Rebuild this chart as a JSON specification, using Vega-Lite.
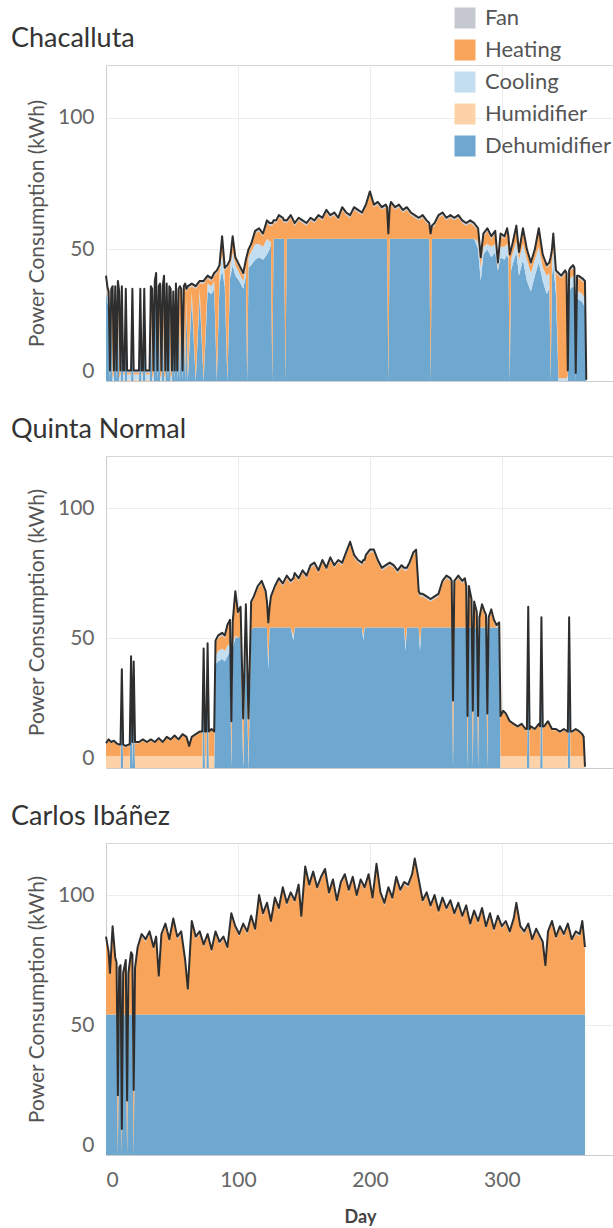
{
"$schema": "https://vega.github.io/schema/vega-lite/v6.json",
"padding": {"left": 10, "top": 7, "right": 0, "bottom": 0},
"background": "white",
"config": {
  "font": "Lato",
  "view": {"stroke": "#d6d6d6"},
  "axis": {"labelFont": "Lato", "labelFontSize": 21, "labelColor": "#666666", "titleFont": "Lato", "titleFontSize": 21, "titleColor": "#555555", "titleFontWeight": "normal", "gridColor": "#ececec", "domainColor": "#cccccc", "ticks": false},
  "legend": {"orient": "none", "legendX": 348, "legendY": -58, "title": null, "symbolType": "square", "symbolSize": 441, "symbolStrokeWidth": 0, "symbolOpacity": 1, "labelFontSize": 22, "labelColor": "#555555", "labelFont": "Lato", "rowPadding": 10, "labelOffset": 9, "padding": 0}
},
"datasets": {
"ord": [{"k":"De","n":"Dehumidifier","o":1},{"k":"Hu","n":"Humidifier","o":2},{"k":"Co","n":"Cooling","o":3},{"k":"He","n":"Heating","o":4},{"k":"Fa","n":"Fan","o":5}],
"cha": [
{"d":0,"De":34,"Hu":0,"Co":3,"He":2,"Fa":1},
{"d":1,"De":30,"Hu":0,"Co":3,"He":2,"Fa":1},
{"d":2,"De":28,"Hu":0,"Co":3,"He":2,"Fa":1},
{"d":3,"De":0,"Hu":0.5,"Co":2,"He":0.5,"Fa":1},
{"d":4,"De":29,"Hu":0,"Co":3,"He":2,"Fa":1},
{"d":5,"De":0,"Hu":0,"Co":1,"He":34,"Fa":1},
{"d":6,"De":0,"Hu":0.5,"Co":2,"He":0.5,"Fa":1},
{"d":7,"De":30,"Hu":0,"Co":3,"He":2,"Fa":1},
{"d":8,"De":0,"Hu":0.5,"Co":2,"He":0.5,"Fa":1},
{"d":9,"De":32,"Hu":0,"Co":3,"He":2,"Fa":1},
{"d":10,"De":0,"Hu":0,"Co":1,"He":32,"Fa":1},
{"d":11,"De":0,"Hu":0.5,"Co":2,"He":0.5,"Fa":1},
{"d":12,"De":30,"Hu":0,"Co":3,"He":2,"Fa":1},
{"d":13,"De":0,"Hu":0.5,"Co":2,"He":0.5,"Fa":1},
{"d":14,"De":0,"Hu":0.5,"Co":2,"He":0.5,"Fa":1},
{"d":15,"De":29,"Hu":0,"Co":3,"He":2,"Fa":1},
{"d":16,"De":0,"Hu":0.5,"Co":2,"He":0.5,"Fa":1},
{"d":17,"De":0,"Hu":0.5,"Co":2,"He":0.5,"Fa":1},
{"d":18,"De":0,"Hu":0.5,"Co":2,"He":0.5,"Fa":1},
{"d":19,"De":0,"Hu":0.5,"Co":2,"He":0.5,"Fa":1},
{"d":20,"De":29,"Hu":0,"Co":3,"He":2,"Fa":1},
{"d":21,"De":0,"Hu":0.5,"Co":2,"He":0.5,"Fa":1},
{"d":22,"De":0,"Hu":0.5,"Co":2,"He":0.5,"Fa":1},
{"d":23,"De":0,"Hu":0.5,"Co":2,"He":0.5,"Fa":1},
{"d":24,"De":0,"Hu":0.5,"Co":2,"He":0.5,"Fa":1},
{"d":25,"De":0,"Hu":0.5,"Co":2,"He":0.5,"Fa":1},
{"d":26,"De":29,"Hu":0,"Co":3,"He":2,"Fa":1},
{"d":27,"De":0,"Hu":0.5,"Co":2,"He":0.5,"Fa":1},
{"d":28,"De":0,"Hu":0.5,"Co":2,"He":0.5,"Fa":1},
{"d":29,"De":29,"Hu":0,"Co":3,"He":2,"Fa":1},
{"d":30,"De":0,"Hu":0.5,"Co":2,"He":0.5,"Fa":1},
{"d":31,"De":0,"Hu":0.5,"Co":2,"He":0.5,"Fa":1},
{"d":32,"De":0,"Hu":0.5,"Co":2,"He":0.5,"Fa":1},
{"d":33,"De":0,"Hu":0.5,"Co":2,"He":0.5,"Fa":1},
{"d":34,"De":30,"Hu":0,"Co":3,"He":2,"Fa":1},
{"d":35,"De":0,"Hu":0,"Co":1,"He":33,"Fa":1},
{"d":36,"De":0,"Hu":0.5,"Co":2,"He":0.5,"Fa":1},
{"d":37,"De":32,"Hu":0,"Co":3,"He":2,"Fa":1},
{"d":38,"De":35,"Hu":0,"Co":3,"He":2,"Fa":1},
{"d":39,"De":0,"Hu":0.5,"Co":2,"He":0.5,"Fa":1},
{"d":40,"De":30,"Hu":0,"Co":3,"He":2,"Fa":1},
{"d":41,"De":0,"Hu":0,"Co":1,"He":35,"Fa":1},
{"d":42,"De":0,"Hu":0.5,"Co":2,"He":0.5,"Fa":1},
{"d":43,"De":30,"Hu":0,"Co":3,"He":2,"Fa":1},
{"d":44,"De":0,"Hu":0,"Co":1,"He":38,"Fa":1},
{"d":45,"De":0,"Hu":0.5,"Co":2,"He":0.5,"Fa":1},
{"d":46,"De":31,"Hu":0,"Co":3,"He":2,"Fa":1},
{"d":47,"De":0,"Hu":0.5,"Co":2,"He":0.5,"Fa":1},
{"d":48,"De":30,"Hu":0,"Co":3,"He":2,"Fa":1},
{"d":49,"De":0,"Hu":0,"Co":1,"He":33,"Fa":1},
{"d":50,"De":0,"Hu":0.5,"Co":2,"He":0.5,"Fa":1},
{"d":51,"De":28,"Hu":0,"Co":3,"He":2,"Fa":1},
{"d":52,"De":0,"Hu":0.5,"Co":2,"He":0.5,"Fa":1},
{"d":53,"De":31,"Hu":0,"Co":3,"He":2,"Fa":1},
{"d":54,"De":0,"Hu":0.5,"Co":2,"He":0.5,"Fa":1},
{"d":55,"De":29,"Hu":0,"Co":3,"He":2,"Fa":1},
{"d":56,"De":0,"Hu":0,"Co":1,"He":34,"Fa":1},
{"d":57,"De":29,"Hu":0,"Co":3,"He":2,"Fa":1},
{"d":58,"De":0,"Hu":0.5,"Co":2,"He":0.5,"Fa":1},
{"d":59,"De":30,"Hu":0,"Co":3,"He":2,"Fa":1},
{"d":60,"De":0,"Hu":0,"Co":1,"He":35,"Fa":1},
{"d":61,"De":29,"Hu":0,"Co":3,"He":2,"Fa":1},
{"d":62,"De":0,"Hu":0,"Co":1,"He":34,"Fa":1},
{"d":65,"De":31,"Hu":0,"Co":3,"He":2,"Fa":1},
{"d":68,"De":0,"Hu":0,"Co":1,"He":34,"Fa":1},
{"d":71,"De":32,"Hu":0,"Co":3,"He":2,"Fa":1},
{"d":74,"De":0,"Hu":0,"Co":1,"He":36,"Fa":1},
{"d":77,"De":34,"Hu":0,"Co":3,"He":2,"Fa":1},
{"d":80,"De":33,"Hu":0,"Co":3,"He":2,"Fa":1},
{"d":82,"De":35,"Hu":0,"Co":3,"He":2,"Fa":1},
{"d":84,"De":0,"Hu":0,"Co":1,"He":40,"Fa":1},
{"d":86,"De":37,"Hu":0,"Co":4,"He":2,"Fa":1},
{"d":88,"De":42,"Hu":0,"Co":6,"He":6,"Fa":1},
{"d":90,"De":36,"Hu":0,"Co":4,"He":2,"Fa":1},
{"d":92,"De":0,"Hu":0,"Co":1,"He":42,"Fa":1},
{"d":94,"De":39,"Hu":0,"Co":4,"He":2,"Fa":1},
{"d":96,"De":44,"Hu":0,"Co":5,"He":5,"Fa":1},
{"d":98,"De":40,"Hu":0,"Co":4,"He":2,"Fa":1},
{"d":101,"De":38,"Hu":0,"Co":3,"He":2,"Fa":1},
{"d":104,"De":35,"Hu":0,"Co":3,"He":2,"Fa":1},
{"d":106,"De":40,"Hu":0,"Co":3,"He":2,"Fa":1},
{"d":107,"De":0,"Hu":0,"Co":1,"He":46,"Fa":1},
{"d":108,"De":43,"Hu":0,"Co":4,"He":2,"Fa":1},
{"d":110,"De":44,"Hu":0,"Co":5,"He":2,"Fa":1},
{"d":113,"De":46,"Hu":0,"Co":6,"He":4,"Fa":1},
{"d":116,"De":47,"Hu":0,"Co":5,"He":5,"Fa":1},
{"d":119,"De":46,"Hu":0,"Co":5,"He":4,"Fa":1},
{"d":122,"De":48,"Hu":0,"Co":6,"He":6,"Fa":1},
{"d":124,"De":50,"Hu":0,"Co":3,"He":6,"Fa":1},
{"d":125,"De":52,"Hu":0,"Co":1,"He":6,"Fa":1},
{"d":126,"De":0,"Hu":0,"Co":0,"He":59,"Fa":1},
{"d":127,"De":54,"Hu":0,"Co":0,"He":6,"Fa":1},
{"d":129,"De":54,"Hu":0,"Co":0,"He":6,"Fa":1},
{"d":131,"De":54,"Hu":0,"Co":0,"He":8,"Fa":1},
{"d":134,"De":54,"Hu":0,"Co":0,"He":7,"Fa":1},
{"d":135,"De":54,"Hu":0,"Co":0,"He":6,"Fa":1},
{"d":136,"De":0,"Hu":0,"Co":0,"He":60,"Fa":1},
{"d":137,"De":54,"Hu":0,"Co":0,"He":6,"Fa":1},
{"d":140,"De":54,"Hu":0,"Co":0,"He":8,"Fa":1},
{"d":143,"De":54,"Hu":0,"Co":0,"He":5,"Fa":1},
{"d":146,"De":54,"Hu":0,"Co":0,"He":7,"Fa":1},
{"d":149,"De":54,"Hu":0,"Co":0,"He":6,"Fa":1},
{"d":152,"De":54,"Hu":0,"Co":0,"He":5,"Fa":1},
{"d":155,"De":54,"Hu":0,"Co":0,"He":7,"Fa":1},
{"d":158,"De":54,"Hu":0,"Co":0,"He":6,"Fa":1},
{"d":161,"De":54,"Hu":0,"Co":0,"He":8,"Fa":1},
{"d":164,"De":54,"Hu":0,"Co":0,"He":7,"Fa":1},
{"d":167,"De":54,"Hu":0,"Co":0,"He":10,"Fa":1},
{"d":170,"De":54,"Hu":0,"Co":0,"He":8,"Fa":1},
{"d":173,"De":54,"Hu":0,"Co":0,"He":9,"Fa":1},
{"d":176,"De":54,"Hu":0,"Co":0,"He":7,"Fa":1},
{"d":179,"De":54,"Hu":0,"Co":0,"He":11,"Fa":1},
{"d":182,"De":54,"Hu":0,"Co":0,"He":9,"Fa":1},
{"d":185,"De":54,"Hu":0,"Co":0,"He":8,"Fa":1},
{"d":188,"De":54,"Hu":0,"Co":0,"He":11,"Fa":1},
{"d":191,"De":54,"Hu":0,"Co":0,"He":10,"Fa":1},
{"d":194,"De":54,"Hu":0,"Co":0,"He":9,"Fa":1},
{"d":197,"De":54,"Hu":0,"Co":0,"He":12,"Fa":1},
{"d":200,"De":54,"Hu":0,"Co":0,"He":17,"Fa":1},
{"d":203,"De":54,"Hu":0,"Co":0,"He":12,"Fa":1},
{"d":206,"De":54,"Hu":0,"Co":0,"He":13,"Fa":1},
{"d":209,"De":54,"Hu":0,"Co":0,"He":11,"Fa":1},
{"d":212,"De":54,"Hu":0,"Co":0,"He":12,"Fa":1},
{"d":213,"De":54,"Hu":0,"Co":0,"He":11,"Fa":1},
{"d":214,"De":0,"Hu":0,"Co":0,"He":55,"Fa":1},
{"d":215,"De":54,"Hu":0,"Co":0,"He":11,"Fa":1},
{"d":216,"De":54,"Hu":0,"Co":0,"He":13,"Fa":1},
{"d":219,"De":54,"Hu":0,"Co":0,"He":11,"Fa":1},
{"d":222,"De":54,"Hu":0,"Co":0,"He":12,"Fa":1},
{"d":225,"De":54,"Hu":0,"Co":0,"He":10,"Fa":1},
{"d":228,"De":54,"Hu":0,"Co":0,"He":11,"Fa":1},
{"d":231,"De":54,"Hu":0,"Co":0,"He":9,"Fa":1},
{"d":234,"De":54,"Hu":0,"Co":0,"He":8,"Fa":1},
{"d":237,"De":54,"Hu":0,"Co":0,"He":7,"Fa":1},
{"d":240,"De":54,"Hu":0,"Co":0,"He":8,"Fa":1},
{"d":243,"De":54,"Hu":0,"Co":0,"He":6,"Fa":1},
{"d":245,"De":54,"Hu":0,"Co":0,"He":5,"Fa":1},
{"d":246,"De":0,"Hu":0,"Co":0,"He":55,"Fa":1},
{"d":247,"De":54,"Hu":0,"Co":0,"He":4,"Fa":1},
{"d":249,"De":54,"Hu":0,"Co":0,"He":5,"Fa":1},
{"d":252,"De":54,"Hu":0,"Co":0,"He":8,"Fa":1},
{"d":255,"De":54,"Hu":0,"Co":0,"He":9,"Fa":1},
{"d":258,"De":54,"Hu":0,"Co":0,"He":7,"Fa":1},
{"d":261,"De":54,"Hu":0,"Co":0,"He":8,"Fa":1},
{"d":264,"De":54,"Hu":0,"Co":0,"He":7,"Fa":1},
{"d":267,"De":54,"Hu":0,"Co":0,"He":8,"Fa":1},
{"d":270,"De":54,"Hu":0,"Co":0,"He":6,"Fa":1},
{"d":273,"De":54,"Hu":0,"Co":0,"He":5,"Fa":1},
{"d":276,"De":54,"Hu":0,"Co":0,"He":6,"Fa":1},
{"d":279,"De":54,"Hu":0,"Co":0,"He":5,"Fa":1},
{"d":282,"De":50,"Hu":0,"Co":3,"He":4,"Fa":1},
{"d":284,"De":38,"Hu":0,"Co":5,"He":3,"Fa":1},
{"d":286,"De":48,"Hu":0,"Co":3,"He":4,"Fa":1},
{"d":289,"De":50,"Hu":0,"Co":2,"He":5,"Fa":1},
{"d":292,"De":47,"Hu":0,"Co":4,"He":3,"Fa":1},
{"d":295,"De":49,"Hu":0,"Co":3,"He":4,"Fa":1},
{"d":297,"De":42,"Hu":0,"Co":1,"He":1,"Fa":1},
{"d":299,"De":47,"Hu":0,"Co":4,"He":4,"Fa":1},
{"d":302,"De":46,"Hu":0,"Co":5,"He":3,"Fa":1},
{"d":304,"De":48,"Hu":0,"Co":4,"He":5,"Fa":1},
{"d":305,"De":46,"Hu":0,"Co":4,"He":4,"Fa":1},
{"d":306,"De":0,"Hu":0,"Co":1,"He":46,"Fa":1},
{"d":307,"De":42,"Hu":0,"Co":4,"He":3,"Fa":1},
{"d":308,"De":44,"Hu":0,"Co":4,"He":3,"Fa":1},
{"d":311,"De":49,"Hu":0,"Co":4,"He":5,"Fa":1},
{"d":313,"De":40,"Hu":0,"Co":6,"He":2,"Fa":1},
{"d":316,"De":46,"Hu":0,"Co":6,"He":5,"Fa":1},
{"d":319,"De":38,"Hu":0,"Co":8,"He":3,"Fa":1},
{"d":322,"De":34,"Hu":0,"Co":7,"He":3,"Fa":1},
{"d":325,"De":40,"Hu":0,"Co":6,"He":3,"Fa":1},
{"d":328,"De":45,"Hu":0,"Co":6,"He":6,"Fa":1},
{"d":331,"De":38,"Hu":0,"Co":5,"He":4,"Fa":1},
{"d":334,"De":33,"Hu":0,"Co":7,"He":3,"Fa":1},
{"d":336,"De":35,"Hu":0,"Co":6,"He":3,"Fa":1},
{"d":337,"De":0,"Hu":0,"Co":1,"He":45,"Fa":1},
{"d":338,"De":40,"Hu":0,"Co":5,"He":4,"Fa":1},
{"d":339,"De":44,"Hu":0,"Co":6,"He":5,"Fa":1},
{"d":341,"De":33,"Hu":0,"Co":6,"He":2,"Fa":1},
{"d":343,"De":0,"Hu":0,"Co":1,"He":39,"Fa":1},
{"d":345,"De":0,"Hu":0,"Co":1,"He":38,"Fa":1},
{"d":348,"De":0,"Hu":0,"Co":1,"He":40,"Fa":1},
{"d":349,"De":0,"Hu":0,"Co":1,"He":39,"Fa":1},
{"d":350,"De":0,"Hu":0,"Co":2,"He":1,"Fa":1},
{"d":351,"De":34,"Hu":0,"Co":4,"He":3,"Fa":1},
{"d":352,"De":35,"Hu":0,"Co":4,"He":3,"Fa":1},
{"d":354,"De":36,"Hu":0,"Co":4,"He":3,"Fa":1},
{"d":355,"De":35,"Hu":0,"Co":4,"He":3,"Fa":1},
{"d":356,"De":0,"Hu":0,"Co":1,"He":1,"Fa":1},
{"d":357,"De":31,"Hu":0,"Co":3,"He":5,"Fa":1},
{"d":358,"De":31,"Hu":0,"Co":3,"He":5,"Fa":1},
{"d":361,"De":30,"Hu":0,"Co":3,"He":5,"Fa":1},
{"d":363,"De":28,"Hu":0,"Co":3,"He":6,"Fa":1},
{"d":364,"De":0,"Hu":0,"Co":0,"He":0,"Fa":0.5}
],
"qn": [
{"d":0,"De":0,"Hu":4.5,"Co":0,"He":4.5,"Fa":0.5},
{"d":2,"De":0,"Hu":4.5,"Co":0,"He":6,"Fa":0.5},
{"d":4,"De":0,"Hu":4.5,"Co":0,"He":5,"Fa":0.5},
{"d":6,"De":0,"Hu":4.5,"Co":0,"He":5.5,"Fa":0.5},
{"d":8,"De":0,"Hu":4.5,"Co":0,"He":4.5,"Fa":0.5},
{"d":10,"De":0,"Hu":4.5,"Co":0,"He":4,"Fa":0.5},
{"d":11,"De":0,"Hu":4.5,"Co":0,"He":4,"Fa":0.5},
{"d":12,"De":34,"Hu":0,"Co":0,"He":3,"Fa":1},
{"d":13,"De":0,"Hu":4.5,"Co":0,"He":4,"Fa":0.5},
{"d":15,"De":0,"Hu":4.5,"Co":0,"He":3.5,"Fa":0.5},
{"d":17,"De":0,"Hu":4.5,"Co":0,"He":4,"Fa":0.5},
{"d":18,"De":0,"Hu":4.5,"Co":0,"He":4,"Fa":0.5},
{"d":19,"De":39,"Hu":0,"Co":0,"He":3,"Fa":1},
{"d":20,"De":0,"Hu":4.5,"Co":0,"He":5,"Fa":0.5},
{"d":21,"De":37,"Hu":0,"Co":0,"He":3,"Fa":1},
{"d":22,"De":0,"Hu":4.5,"Co":0,"He":5,"Fa":0.5},
{"d":25,"De":0,"Hu":4.5,"Co":0,"He":5,"Fa":0.5},
{"d":28,"De":0,"Hu":4.5,"Co":0,"He":6,"Fa":0.5},
{"d":31,"De":0,"Hu":4.5,"Co":0,"He":5,"Fa":0.5},
{"d":34,"De":0,"Hu":4.5,"Co":0,"He":6,"Fa":0.5},
{"d":37,"De":0,"Hu":4.5,"Co":0,"He":5,"Fa":0.5},
{"d":40,"De":0,"Hu":4.5,"Co":0,"He":6.5,"Fa":0.5},
{"d":43,"De":0,"Hu":4.5,"Co":0,"He":5,"Fa":0.5},
{"d":46,"De":0,"Hu":4.5,"Co":0,"He":7,"Fa":0.5},
{"d":49,"De":0,"Hu":4.5,"Co":0,"He":6,"Fa":0.5},
{"d":52,"De":0,"Hu":4.5,"Co":0,"He":7.5,"Fa":0.5},
{"d":55,"De":0,"Hu":4.5,"Co":0,"He":6,"Fa":0.5},
{"d":58,"De":0,"Hu":4.5,"Co":0,"He":8,"Fa":0.5},
{"d":61,"De":0,"Hu":4.5,"Co":0,"He":7,"Fa":0.5},
{"d":63,"De":0,"Hu":4.5,"Co":0,"He":3.5,"Fa":0.5},
{"d":65,"De":0,"Hu":4.5,"Co":0,"He":7,"Fa":0.5},
{"d":68,"De":0,"Hu":4.5,"Co":0,"He":8,"Fa":0.5},
{"d":71,"De":0,"Hu":4.5,"Co":0,"He":9,"Fa":0.5},
{"d":73,"De":0,"Hu":4.5,"Co":0,"He":9,"Fa":0.5},
{"d":74,"De":42,"Hu":0,"Co":0,"He":3,"Fa":1},
{"d":75,"De":0,"Hu":4.5,"Co":0,"He":9,"Fa":0.5},
{"d":76,"De":0,"Hu":4.5,"Co":0,"He":9,"Fa":0.5},
{"d":77,"De":44,"Hu":0,"Co":0,"He":3,"Fa":1},
{"d":78,"De":0,"Hu":4.5,"Co":0,"He":9,"Fa":0.5},
{"d":80,"De":0,"Hu":4.5,"Co":0,"He":10,"Fa":0.5},
{"d":82,"De":0,"Hu":4.5,"Co":0,"He":9,"Fa":0.5},
{"d":83,"De":40,"Hu":0,"Co":3,"He":5,"Fa":1},
{"d":85,"De":41,"Hu":0,"Co":4,"He":5,"Fa":1},
{"d":88,"De":42,"Hu":0,"Co":4,"He":5,"Fa":1},
{"d":90,"De":41,"Hu":0,"Co":4,"He":5,"Fa":1},
{"d":92,"De":43,"Hu":0,"Co":4,"He":7,"Fa":1},
{"d":94,"De":45,"Hu":0,"Co":3,"He":8,"Fa":1},
{"d":95,"De":0,"Hu":4,"Co":0,"He":13,"Fa":1},
{"d":96,"De":46,"Hu":0,"Co":2,"He":7,"Fa":1},
{"d":98,"De":50,"Hu":0,"Co":1,"He":16,"Fa":1},
{"d":100,"De":50,"Hu":0,"Co":0,"He":9,"Fa":1},
{"d":102,"De":51,"Hu":0,"Co":0,"He":10,"Fa":1},
{"d":104,"De":0,"Hu":4,"Co":0,"He":14,"Fa":1},
{"d":106,"De":52,"Hu":0,"Co":0,"He":10,"Fa":1},
{"d":108,"De":0,"Hu":4,"Co":0,"He":14,"Fa":1},
{"d":110,"De":53,"Hu":0,"Co":0,"He":10,"Fa":1},
{"d":112,"De":54,"Hu":0,"Co":0,"He":11,"Fa":1},
{"d":115,"De":54,"Hu":0,"Co":0,"He":15,"Fa":1},
{"d":118,"De":54,"Hu":0,"Co":0,"He":17,"Fa":1},
{"d":121,"De":54,"Hu":0,"Co":0,"He":13,"Fa":1},
{"d":122,"De":54,"Hu":0,"Co":0,"He":9,"Fa":1},
{"d":123,"De":38,"Hu":0,"Co":3,"He":14,"Fa":1},
{"d":124,"De":54,"Hu":0,"Co":0,"He":7,"Fa":1},
{"d":125,"De":54,"Hu":0,"Co":0,"He":11,"Fa":1},
{"d":128,"De":54,"Hu":0,"Co":0,"He":15,"Fa":1},
{"d":131,"De":54,"Hu":0,"Co":0,"He":18,"Fa":1},
{"d":134,"De":54,"Hu":0,"Co":0,"He":16,"Fa":1},
{"d":137,"De":54,"Hu":0,"Co":0,"He":19,"Fa":1},
{"d":140,"De":54,"Hu":0,"Co":0,"He":17,"Fa":1},
{"d":142,"De":49,"Hu":0,"Co":2,"He":21,"Fa":1},
{"d":143,"De":54,"Hu":0,"Co":0,"He":20,"Fa":1},
{"d":146,"De":54,"Hu":0,"Co":0,"He":18,"Fa":1},
{"d":149,"De":54,"Hu":0,"Co":0,"He":21,"Fa":1},
{"d":152,"De":54,"Hu":0,"Co":0,"He":19,"Fa":1},
{"d":155,"De":54,"Hu":0,"Co":0,"He":23,"Fa":1},
{"d":158,"De":54,"Hu":0,"Co":0,"He":24,"Fa":1},
{"d":161,"De":54,"Hu":0,"Co":0,"He":21,"Fa":1},
{"d":164,"De":54,"Hu":0,"Co":0,"He":25,"Fa":1},
{"d":167,"De":54,"Hu":0,"Co":0,"He":22,"Fa":1},
{"d":170,"De":54,"Hu":0,"Co":0,"He":26,"Fa":1},
{"d":173,"De":54,"Hu":0,"Co":0,"He":23,"Fa":1},
{"d":176,"De":54,"Hu":0,"Co":0,"He":25,"Fa":1},
{"d":179,"De":54,"Hu":0,"Co":0,"He":24,"Fa":1},
{"d":182,"De":54,"Hu":0,"Co":0,"He":28,"Fa":1},
{"d":185,"De":54,"Hu":0,"Co":0,"He":32,"Fa":1},
{"d":188,"De":54,"Hu":0,"Co":0,"He":27,"Fa":1},
{"d":191,"De":54,"Hu":0,"Co":0,"He":25,"Fa":1},
{"d":194,"De":54,"Hu":0,"Co":0,"He":24,"Fa":1},
{"d":195,"De":49,"Hu":0,"Co":2,"He":28,"Fa":1},
{"d":196,"De":54,"Hu":0,"Co":0,"He":25,"Fa":1},
{"d":197,"De":54,"Hu":0,"Co":0,"He":27,"Fa":1},
{"d":200,"De":54,"Hu":0,"Co":0,"He":29,"Fa":1},
{"d":203,"De":54,"Hu":0,"Co":0,"He":29,"Fa":1},
{"d":206,"De":54,"Hu":0,"Co":0,"He":25,"Fa":1},
{"d":209,"De":54,"Hu":0,"Co":0,"He":22,"Fa":1},
{"d":212,"De":54,"Hu":0,"Co":0,"He":23,"Fa":1},
{"d":215,"De":54,"Hu":0,"Co":0,"He":24,"Fa":1},
{"d":218,"De":54,"Hu":0,"Co":0,"He":23,"Fa":1},
{"d":221,"De":54,"Hu":0,"Co":0,"He":21,"Fa":1},
{"d":224,"De":54,"Hu":0,"Co":0,"He":23,"Fa":1},
{"d":226,"De":54,"Hu":0,"Co":0,"He":22,"Fa":1},
{"d":227,"De":45,"Hu":0,"Co":3,"He":28,"Fa":1},
{"d":228,"De":54,"Hu":0,"Co":0,"He":22,"Fa":1},
{"d":230,"De":54,"Hu":0,"Co":0,"He":24,"Fa":1},
{"d":233,"De":54,"Hu":0,"Co":0,"He":28,"Fa":1},
{"d":235,"De":54,"Hu":0,"Co":0,"He":29,"Fa":1},
{"d":237,"De":54,"Hu":0,"Co":0,"He":13,"Fa":1},
{"d":238,"De":45,"Hu":0,"Co":3,"He":18,"Fa":1},
{"d":239,"De":54,"Hu":0,"Co":0,"He":12,"Fa":1},
{"d":240,"De":54,"Hu":0,"Co":0,"He":12,"Fa":1},
{"d":243,"De":54,"Hu":0,"Co":0,"He":11,"Fa":1},
{"d":246,"De":54,"Hu":0,"Co":0,"He":10,"Fa":1},
{"d":249,"De":54,"Hu":0,"Co":0,"He":11,"Fa":1},
{"d":252,"De":54,"Hu":0,"Co":0,"He":12,"Fa":1},
{"d":255,"De":54,"Hu":0,"Co":0,"He":17,"Fa":1},
{"d":258,"De":54,"Hu":0,"Co":0,"He":19,"Fa":1},
{"d":261,"De":54,"Hu":0,"Co":0,"He":18,"Fa":1},
{"d":262,"De":54,"Hu":0,"Co":0,"He":17,"Fa":1},
{"d":263,"De":0,"Hu":4,"Co":0,"He":21,"Fa":1},
{"d":264,"De":54,"Hu":0,"Co":0,"He":17,"Fa":1},
{"d":267,"De":54,"Hu":0,"Co":0,"He":19,"Fa":1},
{"d":270,"De":54,"Hu":0,"Co":0,"He":17,"Fa":1},
{"d":272,"De":54,"Hu":0,"Co":0,"He":18,"Fa":1},
{"d":273,"De":54,"Hu":0,"Co":0,"He":15,"Fa":1},
{"d":274,"De":0,"Hu":4,"Co":0,"He":15,"Fa":1},
{"d":275,"De":54,"Hu":0,"Co":0,"He":15,"Fa":1},
{"d":277,"De":54,"Hu":0,"Co":0,"He":10,"Fa":1},
{"d":278,"De":0,"Hu":4,"Co":0,"He":17,"Fa":1},
{"d":279,"De":54,"Hu":0,"Co":0,"He":9,"Fa":1},
{"d":281,"De":54,"Hu":0,"Co":0,"He":5,"Fa":1},
{"d":282,"De":0,"Hu":4,"Co":0,"He":15,"Fa":1},
{"d":283,"De":54,"Hu":0,"Co":0,"He":3,"Fa":1},
{"d":285,"De":54,"Hu":0,"Co":0,"He":8,"Fa":1},
{"d":287,"De":54,"Hu":0,"Co":0,"He":5,"Fa":1},
{"d":288,"De":54,"Hu":0,"Co":0,"He":4,"Fa":1},
{"d":289,"De":0,"Hu":4,"Co":0,"He":16,"Fa":1},
{"d":290,"De":54,"Hu":0,"Co":0,"He":3,"Fa":1},
{"d":292,"De":54,"Hu":0,"Co":0,"He":6,"Fa":1},
{"d":294,"De":54,"Hu":0,"Co":0,"He":2,"Fa":1},
{"d":296,"De":54,"Hu":0,"Co":0,"He":0,"Fa":1},
{"d":298,"De":54,"Hu":0,"Co":0,"He":1,"Fa":1},
{"d":299,"De":0,"Hu":4.5,"Co":0,"He":15,"Fa":0.5},
{"d":301,"De":0,"Hu":4.5,"Co":0,"He":17,"Fa":0.5},
{"d":303,"De":0,"Hu":4.5,"Co":0,"He":16,"Fa":0.5},
{"d":306,"De":0,"Hu":4.5,"Co":0,"He":13,"Fa":0.5},
{"d":309,"De":0,"Hu":4.5,"Co":0,"He":12,"Fa":0.5},
{"d":312,"De":0,"Hu":4.5,"Co":0,"He":11,"Fa":0.5},
{"d":315,"De":0,"Hu":4.5,"Co":0,"He":12,"Fa":0.5},
{"d":318,"De":0,"Hu":4.5,"Co":0,"He":10,"Fa":0.5},
{"d":319,"De":0,"Hu":4.5,"Co":0,"He":10,"Fa":0.5},
{"d":320,"De":56,"Hu":0,"Co":0,"He":5,"Fa":1},
{"d":321,"De":0,"Hu":4.5,"Co":0,"He":10,"Fa":0.5},
{"d":322,"De":0,"Hu":4.5,"Co":0,"He":11,"Fa":0.5},
{"d":325,"De":0,"Hu":4.5,"Co":0,"He":10,"Fa":0.5},
{"d":328,"De":0,"Hu":4.5,"Co":0,"He":12,"Fa":0.5},
{"d":329,"De":0,"Hu":4.5,"Co":0,"He":11,"Fa":0.5},
{"d":330,"De":52,"Hu":0,"Co":0,"He":5,"Fa":1},
{"d":331,"De":0,"Hu":4.5,"Co":0,"He":11,"Fa":0.5},
{"d":332,"De":0,"Hu":4.5,"Co":0,"He":11,"Fa":0.5},
{"d":335,"De":0,"Hu":4.5,"Co":0,"He":13,"Fa":0.5},
{"d":338,"De":0,"Hu":4.5,"Co":0,"He":10,"Fa":0.5},
{"d":341,"De":0,"Hu":4.5,"Co":0,"He":10,"Fa":0.5},
{"d":344,"De":0,"Hu":4.5,"Co":0,"He":9,"Fa":0.5},
{"d":347,"De":0,"Hu":4.5,"Co":0,"He":10,"Fa":0.5},
{"d":350,"De":0,"Hu":4.5,"Co":0,"He":9,"Fa":0.5},
{"d":351,"De":52,"Hu":0,"Co":0,"He":5,"Fa":1},
{"d":352,"De":0,"Hu":4.5,"Co":0,"He":9,"Fa":0.5},
{"d":353,"De":0,"Hu":4.5,"Co":0,"He":9,"Fa":0.5},
{"d":356,"De":0,"Hu":4.5,"Co":0,"He":10,"Fa":0.5},
{"d":359,"De":0,"Hu":4.5,"Co":0,"He":9,"Fa":0.5},
{"d":361,"De":0,"Hu":4.5,"Co":0,"He":8,"Fa":0.5},
{"d":362,"De":0,"Hu":4.5,"Co":0,"He":7,"Fa":0.5},
{"d":363,"De":0,"Hu":0,"Co":0,"He":0,"Fa":0.5}
],
"ci": [
{"d":0,"De":54,"Hu":0,"Co":0,"He":29,"Fa":1},
{"d":2,"De":54,"Hu":0,"Co":0,"He":23,"Fa":1},
{"d":3,"De":54,"Hu":0,"Co":0,"He":15,"Fa":1},
{"d":5,"De":54,"Hu":0,"Co":0,"He":33,"Fa":1},
{"d":7,"De":54,"Hu":0,"Co":0,"He":21,"Fa":1},
{"d":8,"De":54,"Hu":0,"Co":0,"He":19,"Fa":1},
{"d":9,"De":0,"Hu":0,"Co":0,"He":22,"Fa":1},
{"d":10,"De":54,"Hu":0,"Co":0,"He":17,"Fa":1},
{"d":11,"De":54,"Hu":0,"Co":0,"He":18,"Fa":1},
{"d":12,"De":0,"Hu":0,"Co":0,"He":9,"Fa":1},
{"d":13,"De":54,"Hu":0,"Co":0,"He":15,"Fa":1},
{"d":15,"De":54,"Hu":0,"Co":0,"He":20,"Fa":1},
{"d":16,"De":0,"Hu":0,"Co":0,"He":20,"Fa":1},
{"d":17,"De":54,"Hu":0,"Co":0,"He":15,"Fa":1},
{"d":19,"De":54,"Hu":0,"Co":0,"He":23,"Fa":1},
{"d":20,"De":54,"Hu":0,"Co":0,"He":22,"Fa":1},
{"d":21,"De":0,"Hu":0,"Co":0,"He":24,"Fa":1},
{"d":22,"De":54,"Hu":0,"Co":0,"He":17,"Fa":1},
{"d":24,"De":54,"Hu":0,"Co":0,"He":25,"Fa":1},
{"d":27,"De":54,"Hu":0,"Co":0,"He":30,"Fa":1},
{"d":30,"De":54,"Hu":0,"Co":0,"He":28,"Fa":1},
{"d":33,"De":54,"Hu":0,"Co":0,"He":31,"Fa":1},
{"d":36,"De":54,"Hu":0,"Co":0,"He":25,"Fa":1},
{"d":38,"De":54,"Hu":0,"Co":0,"He":29,"Fa":1},
{"d":40,"De":54,"Hu":0,"Co":0,"He":14,"Fa":1},
{"d":42,"De":54,"Hu":0,"Co":0,"He":30,"Fa":1},
{"d":45,"De":54,"Hu":0,"Co":0,"He":34,"Fa":1},
{"d":48,"De":54,"Hu":0,"Co":0,"He":28,"Fa":1},
{"d":51,"De":54,"Hu":0,"Co":0,"He":36,"Fa":1},
{"d":54,"De":54,"Hu":0,"Co":0,"He":29,"Fa":1},
{"d":57,"De":54,"Hu":0,"Co":0,"He":31,"Fa":1},
{"d":60,"De":54,"Hu":0,"Co":0,"He":20,"Fa":1},
{"d":62,"De":54,"Hu":0,"Co":0,"He":9,"Fa":1},
{"d":65,"De":54,"Hu":0,"Co":0,"He":35,"Fa":1},
{"d":68,"De":54,"Hu":0,"Co":0,"He":29,"Fa":1},
{"d":71,"De":54,"Hu":0,"Co":0,"He":31,"Fa":1},
{"d":74,"De":54,"Hu":0,"Co":0,"He":26,"Fa":1},
{"d":77,"De":54,"Hu":0,"Co":0,"He":30,"Fa":1},
{"d":80,"De":54,"Hu":0,"Co":0,"He":24,"Fa":1},
{"d":83,"De":54,"Hu":0,"Co":0,"He":31,"Fa":1},
{"d":86,"De":54,"Hu":0,"Co":0,"He":27,"Fa":1},
{"d":89,"De":54,"Hu":0,"Co":0,"He":29,"Fa":1},
{"d":92,"De":54,"Hu":0,"Co":0,"He":25,"Fa":1},
{"d":95,"De":54,"Hu":0,"Co":0,"He":38,"Fa":1},
{"d":98,"De":54,"Hu":0,"Co":0,"He":33,"Fa":1},
{"d":101,"De":54,"Hu":0,"Co":0,"He":30,"Fa":1},
{"d":104,"De":54,"Hu":0,"Co":0,"He":34,"Fa":1},
{"d":107,"De":54,"Hu":0,"Co":0,"He":31,"Fa":1},
{"d":110,"De":54,"Hu":0,"Co":0,"He":37,"Fa":1},
{"d":113,"De":54,"Hu":0,"Co":0,"He":32,"Fa":1},
{"d":116,"De":54,"Hu":0,"Co":0,"He":45,"Fa":1},
{"d":119,"De":54,"Hu":0,"Co":0,"He":38,"Fa":1},
{"d":122,"De":54,"Hu":0,"Co":0,"He":42,"Fa":1},
{"d":125,"De":54,"Hu":0,"Co":0,"He":35,"Fa":1},
{"d":128,"De":54,"Hu":0,"Co":0,"He":44,"Fa":1},
{"d":131,"De":54,"Hu":0,"Co":0,"He":40,"Fa":1},
{"d":134,"De":54,"Hu":0,"Co":0,"He":48,"Fa":1},
{"d":137,"De":54,"Hu":0,"Co":0,"He":42,"Fa":1},
{"d":140,"De":54,"Hu":0,"Co":0,"He":46,"Fa":1},
{"d":143,"De":54,"Hu":0,"Co":0,"He":43,"Fa":1},
{"d":146,"De":54,"Hu":0,"Co":0,"He":49,"Fa":1},
{"d":148,"De":54,"Hu":0,"Co":0,"He":37,"Fa":1},
{"d":151,"De":54,"Hu":0,"Co":0,"He":56,"Fa":1},
{"d":154,"De":54,"Hu":0,"Co":0,"He":49,"Fa":1},
{"d":157,"De":54,"Hu":0,"Co":0,"He":54,"Fa":1},
{"d":160,"De":54,"Hu":0,"Co":0,"He":48,"Fa":1},
{"d":163,"De":54,"Hu":0,"Co":0,"He":52,"Fa":1},
{"d":166,"De":54,"Hu":0,"Co":0,"He":55,"Fa":1},
{"d":169,"De":54,"Hu":0,"Co":0,"He":46,"Fa":1},
{"d":172,"De":54,"Hu":0,"Co":0,"He":51,"Fa":1},
{"d":175,"De":54,"Hu":0,"Co":0,"He":43,"Fa":1},
{"d":178,"De":54,"Hu":0,"Co":0,"He":50,"Fa":1},
{"d":181,"De":54,"Hu":0,"Co":0,"He":53,"Fa":1},
{"d":184,"De":54,"Hu":0,"Co":0,"He":47,"Fa":1},
{"d":187,"De":54,"Hu":0,"Co":0,"He":52,"Fa":1},
{"d":190,"De":54,"Hu":0,"Co":0,"He":45,"Fa":1},
{"d":193,"De":54,"Hu":0,"Co":0,"He":51,"Fa":1},
{"d":196,"De":54,"Hu":0,"Co":0,"He":48,"Fa":1},
{"d":199,"De":54,"Hu":0,"Co":0,"He":53,"Fa":1},
{"d":202,"De":54,"Hu":0,"Co":0,"He":44,"Fa":1},
{"d":205,"De":54,"Hu":0,"Co":0,"He":57,"Fa":1},
{"d":208,"De":54,"Hu":0,"Co":0,"He":46,"Fa":1},
{"d":211,"De":54,"Hu":0,"Co":0,"He":42,"Fa":1},
{"d":214,"De":54,"Hu":0,"Co":0,"He":48,"Fa":1},
{"d":217,"De":54,"Hu":0,"Co":0,"He":44,"Fa":1},
{"d":220,"De":54,"Hu":0,"Co":0,"He":52,"Fa":1},
{"d":223,"De":54,"Hu":0,"Co":0,"He":47,"Fa":1},
{"d":226,"De":54,"Hu":0,"Co":0,"He":50,"Fa":1},
{"d":229,"De":54,"Hu":0,"Co":0,"He":49,"Fa":1},
{"d":232,"De":54,"Hu":0,"Co":0,"He":53,"Fa":1},
{"d":234,"De":54,"Hu":0,"Co":0,"He":59,"Fa":1},
{"d":237,"De":54,"Hu":0,"Co":0,"He":51,"Fa":1},
{"d":240,"De":54,"Hu":0,"Co":0,"He":43,"Fa":1},
{"d":243,"De":54,"Hu":0,"Co":0,"He":46,"Fa":1},
{"d":246,"De":54,"Hu":0,"Co":0,"He":41,"Fa":1},
{"d":249,"De":54,"Hu":0,"Co":0,"He":45,"Fa":1},
{"d":252,"De":54,"Hu":0,"Co":0,"He":39,"Fa":1},
{"d":255,"De":54,"Hu":0,"Co":0,"He":44,"Fa":1},
{"d":258,"De":54,"Hu":0,"Co":0,"He":40,"Fa":1},
{"d":261,"De":54,"Hu":0,"Co":0,"He":43,"Fa":1},
{"d":264,"De":54,"Hu":0,"Co":0,"He":38,"Fa":1},
{"d":267,"De":54,"Hu":0,"Co":0,"He":42,"Fa":1},
{"d":270,"De":54,"Hu":0,"Co":0,"He":37,"Fa":1},
{"d":273,"De":54,"Hu":0,"Co":0,"He":41,"Fa":1},
{"d":276,"De":54,"Hu":0,"Co":0,"He":34,"Fa":1},
{"d":279,"De":54,"Hu":0,"Co":0,"He":39,"Fa":1},
{"d":282,"De":54,"Hu":0,"Co":0,"He":35,"Fa":1},
{"d":285,"De":54,"Hu":0,"Co":0,"He":40,"Fa":1},
{"d":288,"De":54,"Hu":0,"Co":0,"He":33,"Fa":1},
{"d":291,"De":54,"Hu":0,"Co":0,"He":38,"Fa":1},
{"d":294,"De":54,"Hu":0,"Co":0,"He":32,"Fa":1},
{"d":297,"De":54,"Hu":0,"Co":0,"He":37,"Fa":1},
{"d":300,"De":54,"Hu":0,"Co":0,"He":33,"Fa":1},
{"d":303,"De":54,"Hu":0,"Co":0,"He":35,"Fa":1},
{"d":306,"De":54,"Hu":0,"Co":0,"He":31,"Fa":1},
{"d":309,"De":54,"Hu":0,"Co":0,"He":36,"Fa":1},
{"d":311,"De":54,"Hu":0,"Co":0,"He":42,"Fa":1},
{"d":314,"De":54,"Hu":0,"Co":0,"He":33,"Fa":1},
{"d":317,"De":54,"Hu":0,"Co":0,"He":31,"Fa":1},
{"d":320,"De":54,"Hu":0,"Co":0,"He":34,"Fa":1},
{"d":323,"De":54,"Hu":0,"Co":0,"He":28,"Fa":1},
{"d":326,"De":54,"Hu":0,"Co":0,"He":32,"Fa":1},
{"d":329,"De":54,"Hu":0,"Co":0,"He":29,"Fa":1},
{"d":331,"De":54,"Hu":0,"Co":0,"He":27,"Fa":1},
{"d":333,"De":54,"Hu":0,"Co":0,"He":18,"Fa":1},
{"d":335,"De":54,"Hu":0,"Co":0,"He":31,"Fa":1},
{"d":338,"De":54,"Hu":0,"Co":0,"He":35,"Fa":1},
{"d":341,"De":54,"Hu":0,"Co":0,"He":29,"Fa":1},
{"d":344,"De":54,"Hu":0,"Co":0,"He":33,"Fa":1},
{"d":347,"De":54,"Hu":0,"Co":0,"He":30,"Fa":1},
{"d":350,"De":54,"Hu":0,"Co":0,"He":34,"Fa":1},
{"d":353,"De":54,"Hu":0,"Co":0,"He":28,"Fa":1},
{"d":356,"De":54,"Hu":0,"Co":0,"He":31,"Fa":1},
{"d":359,"De":54,"Hu":0,"Co":0,"He":30,"Fa":1},
{"d":361,"De":54,"Hu":0,"Co":0,"He":35,"Fa":1},
{"d":363,"De":54,"Hu":0,"Co":0,"He":25,"Fa":1}
]
},
"spacing": 33,
"vconcat": [
{
  "width": 508, "height": 316,
  "title": {"text": "Chacalluta", "anchor": "start", "frame": "group", "dx": -95, "offset": 12, "fontSize": 27, "fontWeight": "normal", "color": "#333333", "font": "Lato"},
  "data": {"name": "cha"},
  "transform": [
    {"fold": ["De","Hu","Co","He","Fa"], "as": ["k","v"]},
    {"lookup": "k", "from": {"data": {"name": "ord"}, "key": "k", "fields": ["n","o"]}}
  ],
  "layer": [
    {"mark": {"type": "area", "interpolate": "linear", "opacity": 1},
     "encoding": {
       "x": {"field": "d", "type": "quantitative", "scale": {"domain": [0,385], "nice": false, "zero": false}, "axis": {"labels": false, "title": null, "values": [0,100,200,300], "grid": true}},
       "y": {"field": "v", "type": "quantitative", "stack": "zero", "scale": {"domain": [0,120], "nice": false}, "title": "Power Consumption (kWh)", "axis": {"values": [0,50,100], "labelFlush": true, "labelPadding": 12, "titlePadding": 10}},
       "color": {"field": "n", "type": "nominal",
         "scale": {"domain": ["Fan","Heating","Cooling","Humidifier","Dehumidifier"], "range": ["#c5c9cf","#f8a55b","#c3ddf1","#fdd2a8","#6ea7cf"]}},
       "order": {"field": "o", "type": "quantitative", "sort": "ascending"}
     }},
    {"mark": {"type": "line", "color": "#2e2e2e", "strokeWidth": 2, "strokeJoin": "round"},
     "encoding": {
       "x": {"field": "d", "type": "quantitative", "scale": {"domain": [0,385], "nice": false, "zero": false}},
       "y": {"aggregate": "sum", "field": "v", "type": "quantitative", "scale": {"domain": [0,120], "nice": false}, "title": "Power Consumption (kWh)"}
     }}
  ]
},
{
  "width": 508, "height": 312,
  "title": {"text": "Quinta Normal", "anchor": "start", "frame": "group", "dx": -95, "offset": 12, "fontSize": 27, "fontWeight": "normal", "color": "#333333", "font": "Lato"},
  "data": {"name": "qn"},
  "transform": [
    {"fold": ["De","Hu","Co","He","Fa"], "as": ["k","v"]},
    {"lookup": "k", "from": {"data": {"name": "ord"}, "key": "k", "fields": ["n","o"]}}
  ],
  "layer": [
    {"mark": {"type": "area", "interpolate": "linear", "opacity": 1},
     "encoding": {
       "x": {"field": "d", "type": "quantitative", "scale": {"domain": [0,385], "nice": false, "zero": false}, "axis": {"labels": false, "title": null, "values": [0,100,200,300], "grid": true}},
       "y": {"field": "v", "type": "quantitative", "stack": "zero", "scale": {"domain": [0,120], "nice": false}, "title": "Power Consumption (kWh)", "axis": {"values": [0,50,100], "labelFlush": true, "labelPadding": 12, "titlePadding": 10}},
       "color": {"field": "n", "type": "nominal",
         "scale": {"domain": ["Fan","Heating","Cooling","Humidifier","Dehumidifier"], "range": ["#c5c9cf","#f8a55b","#c3ddf1","#fdd2a8","#6ea7cf"]}},
       "order": {"field": "o", "type": "quantitative", "sort": "ascending"}
     }},
    {"mark": {"type": "line", "color": "#2e2e2e", "strokeWidth": 2, "strokeJoin": "round"},
     "encoding": {
       "x": {"field": "d", "type": "quantitative", "scale": {"domain": [0,385], "nice": false, "zero": false}},
       "y": {"aggregate": "sum", "field": "v", "type": "quantitative", "scale": {"domain": [0,120], "nice": false}, "title": "Power Consumption (kWh)"}
     }}
  ]
},
{
  "width": 508, "height": 312,
  "title": {"text": "Carlos Ibáñez", "anchor": "start", "frame": "group", "dx": -95, "offset": 12, "fontSize": 27, "fontWeight": "normal", "color": "#333333", "font": "Lato"},
  "data": {"name": "ci"},
  "transform": [
    {"fold": ["De","Hu","Co","He","Fa"], "as": ["k","v"]},
    {"lookup": "k", "from": {"data": {"name": "ord"}, "key": "k", "fields": ["n","o"]}}
  ],
  "layer": [
    {"mark": {"type": "area", "interpolate": "linear", "opacity": 1},
     "encoding": {
       "x": {"field": "d", "type": "quantitative", "scale": {"domain": [0,385], "nice": false, "zero": false}, "title": "Day", "axis": {"values": [0,100,200,300], "grid": true, "labelFlush": true, "labelPadding": 14, "titlePadding": 18, "titleFontSize": 18, "titleFontWeight": "bold", "titleColor": "#444444"}},
       "y": {"field": "v", "type": "quantitative", "stack": "zero", "scale": {"domain": [0,120], "nice": false}, "title": "Power Consumption (kWh)", "axis": {"values": [0,50,100], "labelFlush": true, "labelPadding": 12, "titlePadding": 10}},
       "color": {"field": "n", "type": "nominal",
         "scale": {"domain": ["Fan","Heating","Cooling","Humidifier","Dehumidifier"], "range": ["#c5c9cf","#f8a55b","#c3ddf1","#fdd2a8","#6ea7cf"]}},
       "order": {"field": "o", "type": "quantitative", "sort": "ascending"}
     }},
    {"mark": {"type": "line", "color": "#2e2e2e", "strokeWidth": 2, "strokeJoin": "round"},
     "encoding": {
       "x": {"field": "d", "type": "quantitative", "scale": {"domain": [0,385], "nice": false, "zero": false}, "title": "Day"},
       "y": {"aggregate": "sum", "field": "v", "type": "quantitative", "scale": {"domain": [0,120], "nice": false}, "title": "Power Consumption (kWh)"}
     }}
  ]
}
]
}
